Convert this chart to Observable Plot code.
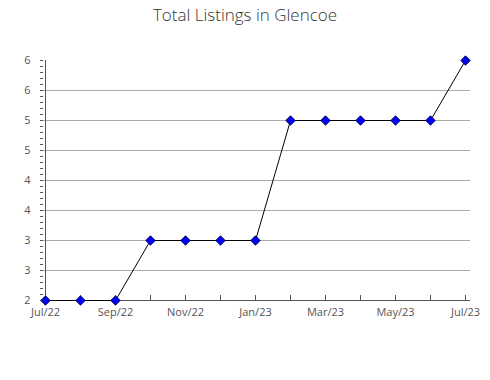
<!DOCTYPE html>
<html><head><meta charset="utf-8">
<script src="https://cdn.jsdelivr.net/npm/d3@7"></script>
<script src="https://cdn.jsdelivr.net/npm/@observablehq/plot@0.6"></script>
<style>
body{margin:0;background:#fff;width:490px;height:380px;overflow:hidden;font-family:"Open Sans",sans-serif;}
#title{height:30px;line-height:30px;text-align:center;font-size:17px;font-weight:300;color:#333;}
</style></head><body>
<div id="title">Total Listings in Glencoe</div>
<div id="chart"></div>
<script>
const months = ["2022-07","2022-08","2022-09","2022-10","2022-11","2022-12","2023-01","2023-02","2023-03","2023-04","2023-05","2023-06","2023-07"];
const listings = [2,2,2,3,3,3,3,5,5,5,5,5,6];
const xTickLabels = {"2022-07":"Jul/22","2022-09":"Sep/22","2022-11":"Nov/22","2023-01":"Jan/23","2023-03":"Mar/23","2023-05":"May/23","2023-07":"Jul/23"};
const yTicks = [2,2.5,3,3.5,4,4.5,5,5.5,6];
const yMinor = d3.range(20, 61).map(v => v / 10);
const gridTicks = [2.5,3,3.5,4,4.5,5,5.5];

const data = months.map((m, i) => ({month: m, value: listings[i]}));

const chart = Plot.plot({
  width: 490,
  height: 350,
  marginTop: 30,
  marginBottom: 80,
  marginLeft: 40,
  marginRight: 20,
  style: {fontFamily: "Open Sans, sans-serif", fontSize: "11px", color: "#555", background: "#fff"},
  x: {type: "point", domain: months, padding: 0},
  y: {domain: [2, 6]},
  marks: [
    Plot.ruleY(gridTicks, {stroke: "#aaa", strokeOpacity: 1}),
    Plot.axisY({ticks: yMinor, tickSize: -3, text: null, stroke: "#555", label: null}),
    Plot.axisY({ticks: yTicks, tickSize: 0, tickPadding: 10, tickFormat: d => String(Math.round(d)), fill: "#555", label: null}),
    Plot.axisX({ticks: months, tickSize: -5, text: null, stroke: "#555", label: null}),
    Plot.axisX({ticks: Object.keys(xTickLabels), tickSize: 0, tickPadding: 8, tickFormat: d => xTickLabels[d], fill: "#555", label: null}),
    Plot.ruleY([2], {stroke: "#555"}),
    Plot.ruleX([months[0]], {stroke: "#555"}),
    Plot.line(data, {x: "month", y: "value", stroke: "#000", strokeWidth: 1}),
    Plot.dot(data, {x: "month", y: "value", symbol: "diamond2", r: 4.2, fill: "#0000ff", stroke: "#000044", strokeWidth: 1})
  ]
});
document.getElementById("chart").appendChild(chart);
</script>
</body></html>
